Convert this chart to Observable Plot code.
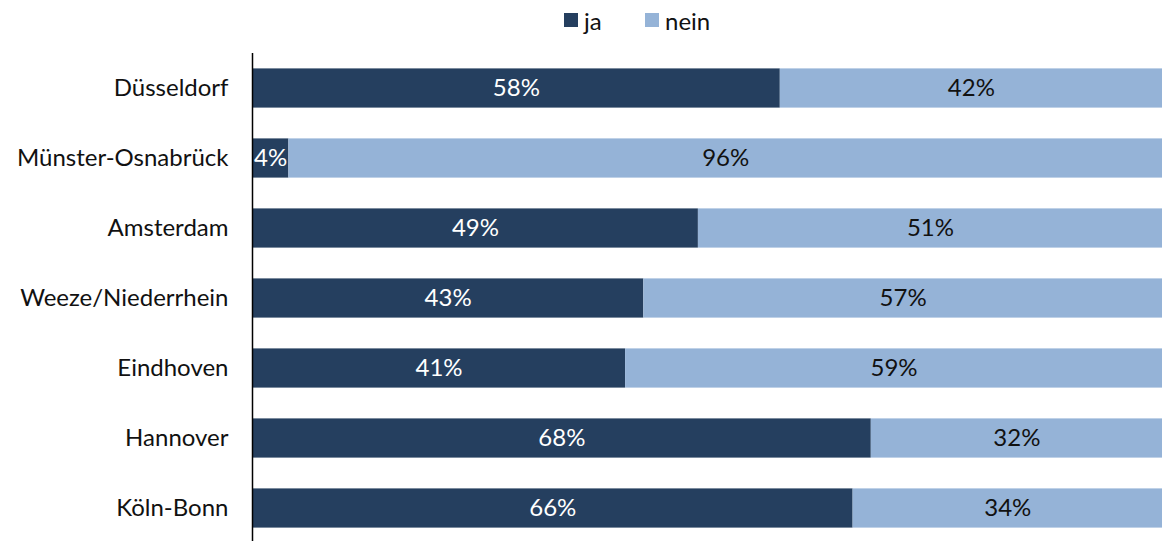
<!DOCTYPE html>
<html>
<head>
<meta charset="utf-8">
<script src="https://cdn.jsdelivr.net/npm/d3@7"></script>
<script src="https://cdn.jsdelivr.net/npm/@observablehq/plot@0.6"></script>
<style>
  html, body { margin: 0; padding: 0; background: #fff; }
  body { width: 1165px; height: 541px; overflow: hidden; font-family: Lato, sans-serif; }
  #legend { position: relative; height: 40px; font-size: 24px; color: #111; }
  .item { position: absolute; top: 0; height: 40px; display: flex; align-items: center; }
  .sw { width: 14px; height: 14px; margin-right: 6px; }
  #chart svg { display: block; }
</style>
</head>
<body>
<div id="legend"></div>
<div id="chart"></div>
<script>
const airports = ["Düsseldorf", "Münster-Osnabrück", "Amsterdam", "Weeze/Niederrhein", "Eindhoven", "Hannover", "Köln-Bonn"];
const ja = [58, 4, 49, 43, 41, 68, 66];
const nein = [42, 96, 51, 57, 59, 32, 34];
const seriesNames = ["ja", "nein"];
const colors = ["#253F5F", "#95B3D7"];
const textColors = ["#ffffff", "#111111"];

const data = [];
airports.forEach((a, i) => {
  data.push({airport: a, series: "ja", value: ja[i]});
  data.push({airport: a, series: "nein", value: nein[i]});
});

const legend = document.getElementById("legend");
const legendX = [564, 645];
seriesNames.forEach((s, i) => {
  const it = document.createElement("div");
  it.className = "item";
  it.style.left = legendX[i] + "px";
  it.innerHTML = `<div class="sw" style="background:${colors[i]}"></div><span>${s}</span>`;
  legend.appendChild(it);
});

const stackOpts = {x: "value", y: "airport", z: "series", order: seriesNames};

const chart = Plot.plot({
  width: 1165,
  height: 503,
  marginTop: 13,
  marginBottom: 0,
  marginLeft: 252,
  marginRight: 3,
  style: {fontFamily: "Lato, sans-serif", fontSize: "24px", color: "#111", background: "#fff"},
  x: {domain: [0, 100], axis: null},
  y: {domain: airports, paddingInner: 0.44, paddingOuter: 0.22, round: false, label: null, tickSize: 0, tickPadding: 24},
  color: {domain: seriesNames, range: colors},
  marks: [
    Plot.barX(data, Plot.stackX({...stackOpts, fill: "series"})),
    Plot.text(data, Plot.stackX({...stackOpts, text: d => d.value + "%", fill: d => textColors[seriesNames.indexOf(d.series)], fontSize: 24})),
    Plot.ruleX([0], {stroke: "#000", strokeWidth: 1.5})
  ]
});
document.getElementById("chart").appendChild(chart);
</script>
</body>
</html>
